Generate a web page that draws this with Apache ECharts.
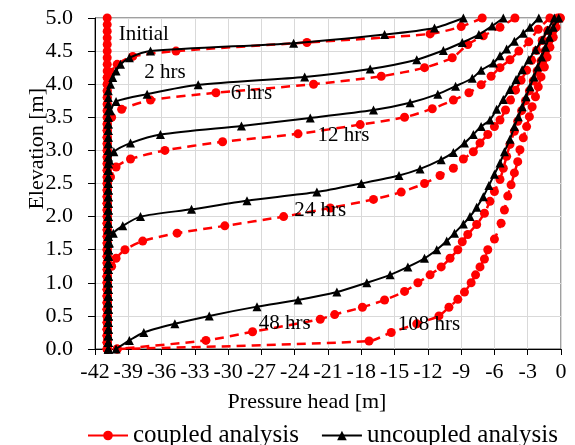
<!DOCTYPE html>
<html><head><meta charset="utf-8">
<script src="https://cdn.jsdelivr.net/npm/echarts@6/dist/echarts.min.js"></script>
<style>html,body{margin:0;padding:0;background:#fff}#c{width:575px;height:445px}</style>
</head><body><div id="c"></div>
<script>
// ---- axis settings ----
const xMin = -42, xMax = 0, xStep = 3;
const yMin = 0, yMax = 5, yStep = 0.5;
const xTitle = 'Pressure head [m]';
const yTitle = 'Elevation [m]';
const legendNames = ['coupled analysis', 'uncoupled analysis'];

// ---- coupled analysis (red) : [pressure head, elevation] ----
const coupledInitial = [[-40.9,5.0],[-40.9,4.9],[-40.9,4.8],[-40.9,4.7],[-40.9,4.6],[-40.9,4.5],[-40.9,4.4],[-40.9,4.3],[-40.9,4.2],[-40.9,4.1],[-40.9,4.0],[-40.9,3.9],[-40.9,3.8],[-40.9,3.7],[-40.9,3.6],[-40.9,3.5],[-40.9,3.4],[-40.9,3.3],[-40.9,3.2],[-40.9,3.1],[-40.9,3.0],[-40.9,2.9],[-40.9,2.8],[-40.9,2.7],[-40.9,2.6],[-40.9,2.5],[-40.9,2.4],[-40.9,2.3],[-40.9,2.2],[-40.9,2.1],[-40.9,2.0],[-40.9,1.9],[-40.9,1.8],[-40.9,1.7],[-40.9,1.6],[-40.9,1.5],[-40.9,1.4],[-40.9,1.3],[-40.9,1.2],[-40.9,1.1],[-40.9,1.0],[-40.9,0.9],[-40.9,0.8],[-40.9,0.7],[-40.9,0.6],[-40.9,0.5],[-40.9,0.4],[-40.9,0.3],[-40.9,0.2],[-40.9,0.1],[-40.9,0.0]];
const coupled2h = [[-7.1,5.0],[-9.0,4.87],[-11.8,4.76],[-22.9,4.63],[-34.7,4.5],[-38.6,4.42],[-40.0,4.3],[-40.6,4.18],[-40.9,4.1],[-40.9,4.0],[-40.9,3.9],[-40.9,3.8],[-40.9,3.7],[-40.9,3.6],[-40.9,3.5],[-40.9,3.4],[-40.9,3.3],[-40.9,3.2],[-40.9,3.1],[-40.9,3.0],[-40.9,2.9],[-40.9,2.8],[-40.9,2.7],[-40.9,2.6],[-40.9,2.5],[-40.9,2.4],[-40.9,2.3],[-40.9,2.2],[-40.9,2.1],[-40.9,2.0],[-40.9,1.9],[-40.9,1.8],[-40.9,1.7],[-40.9,1.6],[-40.9,1.5],[-40.9,1.4],[-40.9,1.3],[-40.9,1.2],[-40.9,1.1],[-40.9,1.0],[-40.9,0.9],[-40.9,0.8],[-40.9,0.7],[-40.9,0.6],[-40.9,0.5],[-40.9,0.4],[-40.9,0.3],[-40.9,0.2],[-40.9,0.1],[-40.9,0.0]];
const coupled6h = [[-4.15,5.0],[-5.5,4.86],[-7.0,4.73],[-8.4,4.6],[-9.8,4.4],[-12.3,4.25],[-16.2,4.12],[-22.3,4.0],[-31.1,3.87],[-37.0,3.76],[-39.6,3.62],[-40.5,3.5],[-40.9,3.4],[-40.9,3.3],[-40.9,3.2],[-40.9,3.1],[-40.9,3.0],[-40.9,2.9],[-40.9,2.8],[-40.9,2.7],[-40.9,2.6],[-40.9,2.5],[-40.9,2.4],[-40.9,2.3],[-40.9,2.2],[-40.9,2.1],[-40.9,2.0],[-40.9,1.9],[-40.9,1.8],[-40.9,1.7],[-40.9,1.6],[-40.9,1.5],[-40.9,1.4],[-40.9,1.3],[-40.9,1.2],[-40.9,1.1],[-40.9,1.0],[-40.9,0.9],[-40.9,0.8],[-40.9,0.7],[-40.9,0.6],[-40.9,0.5],[-40.9,0.4],[-40.9,0.3],[-40.9,0.2],[-40.9,0.1],[-40.9,0.0]];
const coupled12h = [[-1.0,5.0],[-2.05,4.83],[-2.9,4.64],[-3.8,4.5],[-4.6,4.37],[-5.5,4.25],[-6.3,4.12],[-7.2,3.99],[-8.3,3.87],[-9.7,3.76],[-11.6,3.63],[-14.1,3.5],[-18.1,3.39],[-23.7,3.25],[-30.5,3.13],[-35.7,3.0],[-38.8,2.87],[-40.1,2.75],[-40.6,2.6],[-40.9,2.5],[-40.9,2.4],[-40.9,2.3],[-40.9,2.2],[-40.9,2.1],[-40.9,2.0],[-40.9,1.9],[-40.9,1.8],[-40.9,1.7],[-40.9,1.6],[-40.9,1.5],[-40.9,1.4],[-40.9,1.3],[-40.9,1.2],[-40.9,1.1],[-40.9,1.0],[-40.9,0.9],[-40.9,0.8],[-40.9,0.7],[-40.9,0.6],[-40.9,0.5],[-40.9,0.4],[-40.9,0.3],[-40.9,0.2],[-40.9,0.1],[-40.9,0.0]];
const coupled24h = [[-0.3,5.0],[-1.2,4.81],[-1.7,4.66],[-2.2,4.51],[-2.65,4.36],[-3.1,4.21],[-3.6,4.06],[-4.1,3.91],[-4.55,3.76],[-5.0,3.61],[-5.5,3.46],[-6.0,3.36],[-6.6,3.24],[-7.3,3.11],[-7.9,2.98],[-8.8,2.87],[-9.7,2.73],[-10.9,2.62],[-12.3,2.5],[-14.4,2.37],[-16.9,2.26],[-20.8,2.13],[-25.0,2.0],[-30.3,1.86],[-34.6,1.75],[-37.7,1.63],[-39.3,1.5],[-40.1,1.37],[-40.5,1.25],[-40.9,1.1],[-40.9,1.0],[-40.9,0.9],[-40.9,0.8],[-40.9,0.7],[-40.9,0.6],[-40.9,0.5],[-40.9,0.4],[-40.9,0.3],[-40.9,0.2],[-40.9,0.1],[-40.9,0.0]];
const coupled48h = [[-0.1,5.0],[-0.75,4.8],[-1.1,4.65],[-1.45,4.5],[-1.8,4.35],[-2.15,4.2],[-2.5,4.05],[-2.85,3.9],[-3.2,3.75],[-3.55,3.6],[-3.9,3.44],[-4.2,3.29],[-4.6,3.09],[-4.9,2.91],[-5.2,2.73],[-5.5,2.56],[-6.0,2.38],[-6.4,2.23],[-6.9,2.05],[-7.6,1.88],[-8.4,1.73],[-8.9,1.62],[-9.3,1.5],[-10.0,1.37],[-10.8,1.24],[-11.8,1.12],[-12.9,1.0],[-14.1,0.87],[-15.9,0.74],[-17.9,0.63],[-20.4,0.52],[-21.7,0.45],[-27.8,0.26],[-32.0,0.13],[-40.0,0.0]];
const coupled108h = [[-0.05,5.0],[-0.45,4.86],[-0.7,4.71],[-1.0,4.56],[-1.25,4.41],[-1.5,4.26],[-1.8,4.11],[-2.05,3.96],[-2.3,3.81],[-2.6,3.66],[-2.85,3.51],[-3.1,3.36],[-3.4,3.19],[-3.7,3.01],[-3.9,2.83],[-4.2,2.66],[-4.5,2.48],[-4.8,2.31],[-5.1,2.1],[-5.4,1.9],[-6.0,1.66],[-6.6,1.5],[-6.9,1.36],[-7.3,1.24],[-7.7,1.12],[-8.1,1.0],[-8.7,0.86],[-9.3,0.75],[-10.1,0.63],[-11.0,0.5],[-13.0,0.38],[-15.3,0.25],[-17.3,0.12],[-40.0,0.0]];

// ---- uncoupled analysis (black) : [pressure head, elevation] ----
const uncoupled2h = [[-8.8,5.0],[-11.4,4.85],[-15.9,4.75],[-24.1,4.62],[-37.0,4.5],[-38.9,4.4],[-39.7,4.3],[-40.1,4.2],[-40.4,4.1],[-40.6,4.0],[-40.8,3.9],[-40.8,3.8],[-40.8,3.7],[-40.8,3.6],[-40.8,3.5],[-40.8,3.4],[-40.8,3.3],[-40.8,3.2],[-40.8,3.1],[-40.8,3.0],[-40.8,2.9],[-40.8,2.8],[-40.8,2.7],[-40.8,2.6],[-40.8,2.5],[-40.8,2.4],[-40.8,2.3],[-40.8,2.2],[-40.8,2.1],[-40.8,2.0],[-40.8,1.9],[-40.8,1.8],[-40.8,1.7],[-40.8,1.6],[-40.8,1.5],[-40.8,1.4],[-40.8,1.3],[-40.8,1.2],[-40.8,1.1],[-40.8,1.0],[-40.8,0.9],[-40.8,0.8],[-40.8,0.7],[-40.8,0.6],[-40.8,0.5],[-40.8,0.4],[-40.8,0.3],[-40.8,0.2],[-40.8,0.1],[-40.8,0.0]];
const uncoupled6h = [[-5.2,5.0],[-6.2,4.88],[-7.4,4.75],[-8.9,4.63],[-10.6,4.51],[-13.0,4.37],[-17.2,4.23],[-23.1,4.11],[-32.7,3.99],[-37.3,3.85],[-40.1,3.74],[-40.6,3.6],[-40.8,3.5],[-40.8,3.4],[-40.8,3.3],[-40.8,3.2],[-40.8,3.1],[-40.8,3.0],[-40.8,2.9],[-40.8,2.8],[-40.8,2.7],[-40.8,2.6],[-40.8,2.5],[-40.8,2.4],[-40.8,2.3],[-40.8,2.2],[-40.8,2.1],[-40.8,2.0],[-40.8,1.9],[-40.8,1.8],[-40.8,1.7],[-40.8,1.6],[-40.8,1.5],[-40.8,1.4],[-40.8,1.3],[-40.8,1.2],[-40.8,1.1],[-40.8,1.0],[-40.8,0.9],[-40.8,0.8],[-40.8,0.7],[-40.8,0.6],[-40.8,0.5],[-40.8,0.4],[-40.8,0.3],[-40.8,0.2],[-40.8,0.1],[-40.8,0.0]];
const uncoupled12h = [[-2.0,5.0],[-2.8,4.86],[-3.4,4.77],[-4.2,4.65],[-4.9,4.53],[-5.5,4.43],[-6.1,4.32],[-7.2,4.21],[-8.0,4.09],[-9.5,3.97],[-11.1,3.85],[-13.6,3.72],[-16.9,3.61],[-22.6,3.49],[-28.8,3.37],[-36.1,3.24],[-38.8,3.11],[-40.3,2.98],[-40.7,2.85],[-40.8,2.7],[-40.8,2.6],[-40.8,2.5],[-40.8,2.4],[-40.8,2.3],[-40.8,2.2],[-40.8,2.1],[-40.8,2.0],[-40.8,1.9],[-40.8,1.8],[-40.8,1.7],[-40.8,1.6],[-40.8,1.5],[-40.8,1.4],[-40.8,1.3],[-40.8,1.2],[-40.8,1.1],[-40.8,1.0],[-40.8,0.9],[-40.8,0.8],[-40.8,0.7],[-40.8,0.6],[-40.8,0.5],[-40.8,0.4],[-40.8,0.3],[-40.8,0.2],[-40.8,0.1],[-40.8,0.0]];
const uncoupled24h = [[-0.6,5.0],[-1.2,4.82],[-1.7,4.67],[-2.3,4.52],[-2.9,4.37],[-3.5,4.22],[-4.05,4.07],[-4.6,3.92],[-5.2,3.77],[-5.8,3.62],[-6.4,3.46],[-7.2,3.36],[-7.9,3.24],[-8.7,3.11],[-9.7,2.97],[-10.8,2.86],[-12.7,2.72],[-14.6,2.62],[-18.0,2.5],[-22.0,2.37],[-28.3,2.24],[-33.3,2.11],[-37.9,2.0],[-39.5,1.86],[-40.35,1.75],[-40.7,1.6],[-40.8,1.5],[-40.8,1.4],[-40.8,1.3],[-40.8,1.2],[-40.8,1.1],[-40.8,1.0],[-40.8,0.9],[-40.8,0.8],[-40.8,0.7],[-40.8,0.6],[-40.8,0.5],[-40.8,0.4],[-40.8,0.3],[-40.8,0.2],[-40.8,0.1],[-40.8,0.0]];
const uncoupled48h = [[-0.2,5.0],[-0.7,4.86],[-1.05,4.71],[-1.4,4.56],[-1.75,4.41],[-2.1,4.26],[-2.45,4.11],[-2.8,3.96],[-3.15,3.81],[-3.5,3.66],[-3.85,3.51],[-4.2,3.36],[-4.6,3.17],[-5.1,2.98],[-5.5,2.81],[-6.0,2.64],[-6.5,2.47],[-7.0,2.3],[-7.6,2.14],[-8.2,2.0],[-8.8,1.89],[-9.6,1.75],[-10.3,1.63],[-11.2,1.5],[-12.3,1.37],[-13.8,1.24],[-15.4,1.12],[-17.5,1.0],[-20.2,0.86],[-23.7,0.74],[-27.4,0.64],[-31.7,0.5],[-34.8,0.38],[-37.6,0.25],[-38.9,0.13],[-40.1,0.0]];

// ---- curve annotations : [pressure head, elevation, text] ----
const annotations = [[-37.6,4.75,'Initial'],[-35.7,4.17,'2 hrs'],[-27.9,3.86,'6 hrs'],[-19.6,3.22,'12 hrs'],[-21.7,2.09,'24 hrs'],[-24.9,0.38,'48 hrs'],[-11.9,0.37,'108 hrs']];

const coupledCurves = [coupledInitial, coupled2h, coupled6h, coupled12h, coupled24h, coupled48h, coupled108h];
const uncoupledCurves = [uncoupled2h, uncoupled6h, uncoupled12h, uncoupled24h, uncoupled48h];

const FONT = '"Liberation Serif", "Times New Roman", serif';
const RED = '#ff0000';

const series = [];
coupledCurves.forEach(d => series.push({
  type: 'line', name: legendNames[0], data: d, smooth: 0.25,
  symbol: 'circle', symbolSize: 9,
  itemStyle: { color: RED },
  lineStyle: { color: RED, width: 2.5, type: [9, 6] },
  z: 2
}));
uncoupledCurves.forEach(d => series.push({
  type: 'line', name: legendNames[1], data: d, smooth: 0.25,
  symbol: 'triangle', symbolSize: 9,
  itemStyle: { color: '#000' },
  lineStyle: { color: '#000', width: 2 },
  z: 3
}));

const chart = echarts.init(document.getElementById('c'), null, { renderer: 'canvas' });
chart.setOption({
  animation: false,
  backgroundColor: '#fff',
  grid: { left: 95, right: 14, top: 18, bottom: 96, show: true, borderColor: '#404040', borderWidth: 1 },
  xAxis: {
    type: 'value', min: xMin, max: xMax, interval: xStep,
    name: xTitle, nameLocation: 'middle', nameGap: 42,
    nameTextStyle: { fontFamily: FONT, fontSize: 22, color: '#000', padding: [0, 42, 0, 0] },
    axisLine: { show: true, onZero: false, lineStyle: { color: '#000', width: 1 } },
    axisTick: { show: true, inside: false, length: 6, lineStyle: { color: '#000' } },
    axisLabel: { fontFamily: FONT, fontSize: 22, color: '#000', margin: 12, formatter: v => String(v) },
    splitLine: { show: true, lineStyle: { color: '#d9d9d9', width: 1 } }
  },
  yAxis: {
    type: 'value', min: yMin, max: yMax, interval: yStep,
    axisLine: { show: true, onZero: false, lineStyle: { color: '#000', width: 1 } },
    axisTick: { show: true, inside: false, length: 7, lineStyle: { color: '#000' } },
    axisLabel: { fontFamily: FONT, fontSize: 22, color: '#000', margin: 22, formatter: v => v.toFixed(1) },
    splitLine: { show: true, lineStyle: { color: '#d9d9d9', width: 1 } }
  },
  legend: {
    data: legendNames, left: 82, top: 418, itemGap: 22, itemWidth: 40, itemHeight: 12,
    textStyle: { fontFamily: FONT, fontSize: 25, color: '#000' },
    lineStyle: { type: 'solid' }
  },
  series: series
});

// annotations and y-axis title as text, placed through the chart's own scales
const gfx = [{
  type: 'text', left: 26, top: 88, rotation: Math.PI / 2,
  style: { text: yTitle, font: '22px ' + FONT, fill: '#000' }
}];
annotations.forEach(a => {
  const pt = chart.convertToPixel({ gridIndex: 0 }, [a[0], a[1]]);
  gfx.push({
    type: 'text', x: pt[0], y: pt[1], z: 10,
    style: { text: a[2], font: '21px ' + FONT, fill: '#000', align: 'center', verticalAlign: 'middle' }
  });
});
chart.setOption({ graphic: gfx });
</script></body></html>
